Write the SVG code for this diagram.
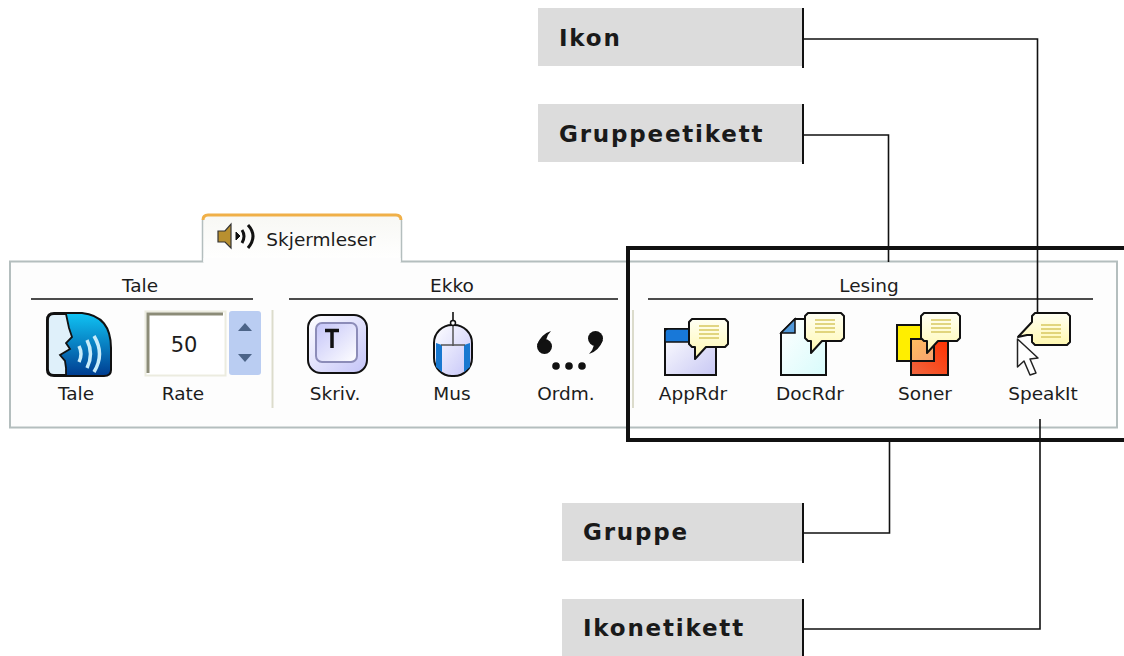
<svg xmlns="http://www.w3.org/2000/svg" width="1124" height="656" viewBox="0 0 1124 656">
<style>
.ui{font-family:"DejaVu Sans","Liberation Sans",sans-serif;font-size:18.500px;fill:#1c1c1c;text-anchor:middle}
.lbl{font-family:"DejaVu Sans","Liberation Sans",sans-serif;font-weight:700;font-size:23px;letter-spacing:1.800px;fill:#1a1a1a}
.box{fill:#dcdcdc}
.bar{stroke:#111;stroke-width:2;fill:none}
.con{stroke:#111;stroke-width:1.600;fill:none}
.rule{stroke:#111;stroke-width:1.600}
.sep{stroke:#dcdccc;stroke-width:2}
.ln{stroke:#d8c860;stroke-width:1.300}
</style>
<defs>
<linearGradient id="gTale" x1="0" y1="0" x2="0" y2="1"><stop offset="0" stop-color="#10c4f4"/><stop offset="1" stop-color="#003c90"/></linearGradient>
<linearGradient id="gKey" x1="0" y1="0" x2="1" y2="1"><stop offset="0" stop-color="#ffffff"/><stop offset="1" stop-color="#c4c4f8"/></linearGradient>
<linearGradient id="gWin" x1="0" y1="0" x2="1" y2="1"><stop offset="0" stop-color="#ffffff"/><stop offset="1" stop-color="#c8c8f4"/></linearGradient>
<linearGradient id="gDoc" x1="0" y1="0" x2="1" y2="1"><stop offset="0" stop-color="#ffffff"/><stop offset="1" stop-color="#d8fbfb"/></linearGradient>
<linearGradient id="gBub" x1="0" y1="0" x2="0" y2="1"><stop offset="0" stop-color="#fffff4"/><stop offset="1" stop-color="#fff8b0"/></linearGradient>
<linearGradient id="gRed" x1="1" y1="0" x2="0" y2="1"><stop offset="0" stop-color="#ff3000"/><stop offset="1" stop-color="#f06840"/></linearGradient>
<linearGradient id="gOver" x1="0" y1="0" x2="1" y2="1"><stop offset="0" stop-color="#ffc060"/><stop offset="1" stop-color="#f8a070"/></linearGradient>
<linearGradient id="gTab" x1="0" y1="0" x2="0" y2="1"><stop offset="0" stop-color="#f8f8f4"/><stop offset="1" stop-color="#ffffff"/></linearGradient>
<g id="bubble">
<path d="M3 0H36L39 3V25L36 28H17L6 40V28H3L0 25V3Z" fill="url(#gBub)" stroke="#111" stroke-width="2" stroke-linejoin="round"/>
<path class="ln" d="M10 7H30M10 11H30M10 15H30M10 19H30" fill="none"/>
</g>
</defs>

<g id="panel">
<rect x="10" y="261.500" width="1107" height="166" fill="#fdfdfd" stroke="#b4bebe" stroke-width="2"/>
</g>

<g id="tab">
<path d="M202.500 262V221Q202.500 215 208 215H396Q401.500 215 401.500 221V262" fill="url(#gTab)" stroke="#b4bebe" stroke-width="1.500"/>
<path d="M203 220Q203 215 208 215H396Q401 215 401 220" fill="none" stroke="#f0b048" stroke-width="3"/>
<rect x="203.500" y="258" width="197" height="6" fill="#fdfdfd"/>
<path d="M218 231H225L231 224V248L225 242H218Z" fill="#b89030" stroke="#333" stroke-width="1.200"/>
<path d="M236 232L240 236L236 240Z" fill="#111" stroke="#111"/>
<path d="M242 230Q246 236 242 243M248 225Q258 236 248 248" fill="none" stroke="#111" stroke-width="3"/>
<text class="ui" x="321" y="246">Skjermleser</text>
</g>

<g id="group-tale">
<text class="ui" x="140" y="292">Tale</text>
<line class="rule" x1="31" y1="299" x2="253" y2="299"/>
<g id="icon-tale">
<path d="M54 313H82Q111 316 111 348V370Q111 376 104 376H54Q47 376 47 370V320Q47 313 54 313Z" fill="url(#gTale)" stroke="#111" stroke-width="2"/>
<path d="M54 314H66L69 328L72 337L66 343L70 349L60 355L65 361L66 368L66 375H54Q48 375 48 369V320Q48 314 54 314Z" fill="#dff0fa" stroke="#111" stroke-width="1.800"/>
<path d="M79 346Q83 354 79 362M87 340Q94 354 87 368M94 336Q105 354 94 372" fill="none" stroke="#c8ecfa" stroke-width="3.500"/>
</g>
<text class="ui" x="76" y="400">Tale</text>
<g id="spinner">
<rect x="145.500" y="311.500" width="80" height="64" fill="#fff" stroke="#ecece0" stroke-width="2"/>
<path d="M148 373V314H223" fill="none" stroke="#8c8c78" stroke-width="3"/>
<text class="ui" x="184" y="352" style="font-size:21px">50</text>
<rect x="229" y="311" width="32" height="64" rx="3" fill="#bacdf2"/>
<path d="M238 331L245 323L252 331Z" fill="#4c6488"/>
<path d="M238 354L245 362L252 354Z" fill="#4c6488"/>
</g>
<text class="ui" x="183" y="400">Rate</text>
<line class="sep" x1="272.500" y1="310" x2="272.500" y2="408"/>
</g>

<g id="group-ekko">
<text class="ui" x="452" y="292">Ekko</text>
<line class="rule" x1="289" y1="299" x2="618" y2="299"/>
<g id="icon-skriv">
<rect x="308" y="315" width="59" height="58" rx="13" fill="url(#gKey)" stroke="#111" stroke-width="2"/>
<rect x="316" y="323" width="41" height="39" rx="6" fill="url(#gKey)" stroke="#8c8cb8" stroke-width="2" transform="rotate(180 336.500 342.500)"/>
<path d="M325 330.500H339M332 330.500V348" fill="none" stroke="#111" stroke-width="3.500"/>
</g>
<text class="ui" x="335" y="400">Skriv.</text>
<g id="icon-mus">
<path d="M453 312V325" stroke="#111" stroke-width="1.600"/>
<rect x="434" y="325" width="38" height="51" rx="18" fill="url(#gKey)" stroke="#111" stroke-width="2"/>
<path d="M436 343V367L442 372V345ZM470 343V367L464 372V345Z" fill="#1878d0"/>
<path d="M453 325V346M441 345H465" fill="none" stroke="#555" stroke-width="1.500"/>
<circle cx="453" cy="323" r="2.500" fill="#fff" stroke="#111" stroke-width="1.500"/>
</g>
<text class="ui" x="452" y="400">Mus</text>
<g id="icon-ordm" fill="#111">
<circle cx="544.500" cy="346.500" r="7.500"/>
<path d="M551 331Q541 334 537 345L546 340Q547 335 551 331Z"/>
<circle cx="595.500" cy="338.500" r="7.500"/>
<path d="M589 354Q599 351 603 340L594 345Q593 350 589 354Z"/>
<circle cx="556" cy="366" r="3.800"/><circle cx="569" cy="366" r="3.800"/><circle cx="582" cy="366" r="3.800"/>
</g>
<text class="ui" x="566" y="400">Ordm.</text>
<line class="sep" x1="633" y1="310" x2="633" y2="408"/>
</g>

<g id="group-lesing">
<text class="ui" x="869" y="292">Lesing</text>
<line class="rule" x1="648" y1="299" x2="1093" y2="299"/>
<g id="icon-apprdr">
<rect x="665" y="329" width="51" height="46" fill="url(#gWin)" stroke="#111" stroke-width="2"/>
<path d="M665 342V332Q665 329 668 329H692V342Z" fill="#1878d8" stroke="#111" stroke-width="1.500"/>
<use href="#bubble" x="689" y="319"/>
</g>
<text class="ui" x="693" y="400">AppRdr</text>
<g id="icon-docrdr">
<path d="M781 333L795 319H826V375H781Z" fill="url(#gDoc)" stroke="#111" stroke-width="2"/>
<path d="M781 333L795 319V333Z" fill="#5098d8" stroke="#111" stroke-width="1.500"/>
<use href="#bubble" x="805" y="313"/>
</g>
<text class="ui" x="810" y="400">DocRdr</text>
<g id="icon-soner">
<rect x="897" y="325" width="37" height="36" fill="#ffee00" stroke="#111" stroke-width="2"/>
<rect x="911" y="339" width="37" height="36" fill="url(#gRed)" stroke="#111" stroke-width="2"/>
<rect x="911" y="339" width="23" height="22" fill="url(#gOver)" stroke="#111" stroke-width="2"/>
<use href="#bubble" x="921" y="313"/>
</g>
<text class="ui" x="925" y="400">Soner</text>
<g id="icon-speakit">
<path d="M1035 313H1067L1070 316V342L1067 345H1035L1032 342V335H1027L1018 337L1032 322V316Z" fill="url(#gBub)" stroke="#111" stroke-width="2" stroke-linejoin="round"/>
<path class="ln" d="M1041 325H1061M1041 329H1061M1041 333H1061M1041 337H1061" fill="none"/>
<path d="M1017.500 339V367L1024 361L1030 375L1036 373L1030 359L1038 358Z" fill="#fff" stroke="#222" stroke-width="1.500" stroke-linejoin="round"/>
</g>
<text class="ui" x="1043" y="400">SpeakIt</text>
</g>

<g id="highlight">
<path d="M1124 248H628V440H1124" fill="none" stroke="#111" stroke-width="4"/>
</g>

<g id="node-ikon">
<rect class="box" x="538" y="8" width="265" height="58"/>
<path class="bar" d="M803 8V68"/>
<text class="lbl" x="559" y="46">Ikon</text>
</g>
<g id="node-gruppeetikett">
<rect class="box" x="538" y="104" width="265" height="58"/>
<path class="bar" d="M803 104V164"/>
<text class="lbl" x="559" y="142">Gruppeetikett</text>
</g>
<g id="node-gruppe">
<rect class="box" x="562" y="503" width="241" height="58"/>
<path class="bar" d="M803 503V563"/>
<text class="lbl" x="583" y="540">Gruppe</text>
</g>
<g id="node-ikonetikett">
<rect class="box" x="562" y="599" width="241" height="57"/>
<path class="bar" d="M803 599V656"/>
<text class="lbl" x="583" y="636">Ikonetikett</text>
</g>

<g id="connectors">
<path class="con" d="M803 39H1037.500V313"/>
<path class="con" d="M803 135H888.500V262"/>
<path class="con" d="M803 533H889.500V442"/>
<path class="con" d="M803 629H1040V419"/>
</g>
</svg>
